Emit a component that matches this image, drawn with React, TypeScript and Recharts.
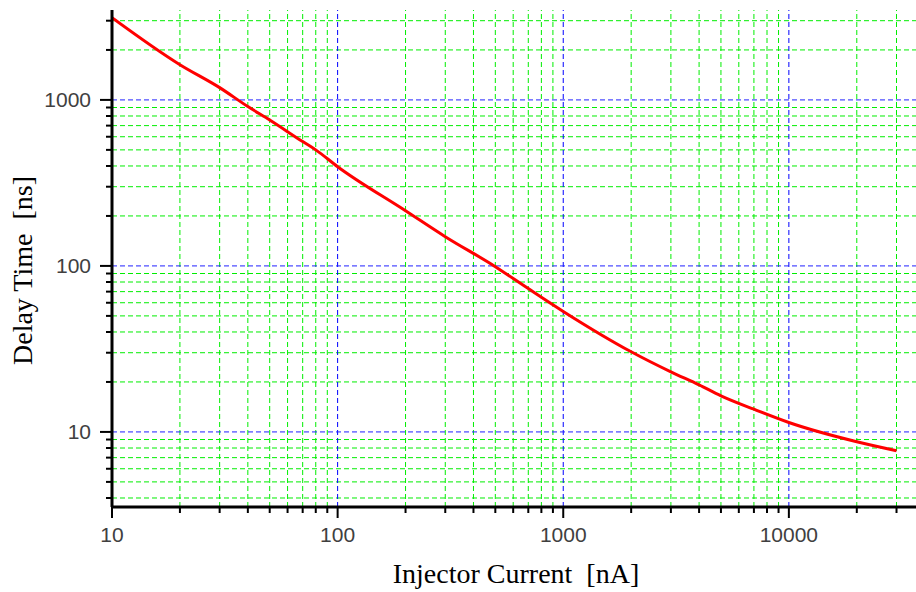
import React from 'react';
import { LineChart, Line, XAxis, YAxis, ReferenceLine } from 'recharts';

const currentNA = [10, 20, 30, 40, 50, 70, 80, 100, 200, 300, 500, 700, 1000, 2000, 3000, 4000, 5000, 7000, 10000, 20000, 30000];
const delayNs = [3130, 1630, 1186, 912, 757, 561, 500, 396, 215, 150, 99, 73, 53.2, 30.4, 23.0, 19.2, 16.5, 13.7, 11.4, 8.73, 7.71];

const xTicks = [10, 20, 30, 40, 50, 60, 70, 80, 90, 100, 200, 300, 400, 500, 600, 700, 800, 900, 1000, 2000, 3000, 4000, 5000, 6000, 7000, 8000, 9000, 10000, 20000, 30000];
const yTicks = [4, 5, 6, 7, 8, 9, 10, 20, 30, 40, 50, 60, 70, 80, 90, 100, 200, 300, 400, 500, 600, 700, 800, 900, 1000, 2000, 3000];
const xMajor = [10, 100, 1000, 10000];
const yMajor = [10, 100, 1000];
const xDomain = [10, 36600];
const yDomain = [3.53, 3480];

const xTitle = 'Injector Current\u00a0\u00a0[nA]';
const yTitle = 'Delay Time\u00a0\u00a0[ns]';

const data = currentNA.map((c, i) => ({ current: c, delay: delayNs[i] }));

const isMajor = (v: number) => Math.abs(Math.log10(v) - Math.round(Math.log10(v))) < 1e-9;

const xMinor = xTicks.filter((v) => !isMajor(v));
const yMinor = yTicks.filter((v) => !isMajor(v));

const tickFont = "'Liberation Sans', Arial, sans-serif";
const titleFont = "'Liberation Serif', 'Times New Roman', serif";

const XTick = (props: any) => {
  const { x, y, payload } = props;
  const v = payload.value;
  const major = isMajor(v);
  return (
    <g>
      <line x1={x} y1={y} x2={x} y2={y + (major ? 11 : 6)} stroke="#000" strokeWidth={2} />
      {major && (
        <text x={x} y={y + 35} textAnchor="middle" fontFamily={tickFont} fontSize={21} fill="#404040">
          {v}
        </text>
      )}
    </g>
  );
};

const YTick = (props: any) => {
  const { x, y, payload } = props;
  const v = payload.value;
  const major = isMajor(v);
  return (
    <g>
      <line x1={x} y1={y} x2={x - (major ? 12 : 6)} y2={y} stroke="#000" strokeWidth={2} />
      {major && (
        <text x={x - 21} y={y + 7.5} textAnchor="end" fontFamily={tickFont} fontSize={21} fill="#404040">
          {v}
        </text>
      )}
    </g>
  );
};

const XTitle = (props: any) => {
  const vb = props.viewBox;
  const cx = vb.x + vb.width / 2;
  return (
    <text x={cx + 2} y={582.5} textAnchor="middle" fontFamily={titleFont} fontSize={28} fill="#000">
      {xTitle}
    </text>
  );
};

const YTitle = (props: any) => {
  const vb = props.viewBox;
  const cy = vb.y + vb.height / 2 + 12;
  const bx = 31.5;
  return (
    <text x={bx} y={cy} transform={`rotate(-90, ${bx}, ${cy})`} textAnchor="middle" fontFamily={titleFont} fontSize={28} fill="#000">
      {yTitle}
    </text>
  );
};

export default function App() {
  return (
    <div style={{ position: 'absolute', left: 0, top: 0, width: 916, height: 592, background: '#fff' }}>
      <LineChart width={916} height={592} data={data} margin={{ top: 10, right: 0, left: 0, bottom: 0 }}>
        {xMinor.map((v) => (
          <ReferenceLine key={'xm' + v} x={v} stroke="#00ee00" strokeDasharray="5 3" strokeWidth={1} />
        ))}
        {yMinor.map((v) => (
          <ReferenceLine key={'ym' + v} y={v} stroke="#00ee00" strokeDasharray="5 3" strokeWidth={1} />
        ))}
        {xMajor.map((v) => (
          <ReferenceLine key={'x' + v} x={v} stroke="#0000ff" strokeDasharray="5 3" strokeWidth={1} />
        ))}
        {yMajor.map((v) => (
          <ReferenceLine key={'y' + v} y={v} stroke="#2020ff" strokeDasharray="5 3" strokeWidth={1} />
        ))}
        <XAxis
          dataKey="current"
          type="number"
          scale="log"
          domain={xDomain}
          allowDataOverflow
          ticks={xTicks}
          interval={0}
          tick={<XTick />}
          tickLine={false}
          tickSize={0}
          tickMargin={0}
          axisLine={{ stroke: '#000', strokeWidth: 3 }}
          height={85}
          label={<XTitle />}
        />
        <YAxis
          dataKey="delay"
          type="number"
          scale="log"
          domain={yDomain}
          allowDataOverflow
          ticks={yTicks}
          interval={0}
          tick={<YTick />}
          tickLine={false}
          tickSize={0}
          tickMargin={0}
          axisLine={{ stroke: '#000', strokeWidth: 3 }}
          width={112}
          label={<YTitle />}
        />
        <Line type="monotone" dataKey="delay" stroke="#ff0000" strokeWidth={3} dot={false} isAnimationActive={false} />
      </LineChart>
    </div>
  );
}
